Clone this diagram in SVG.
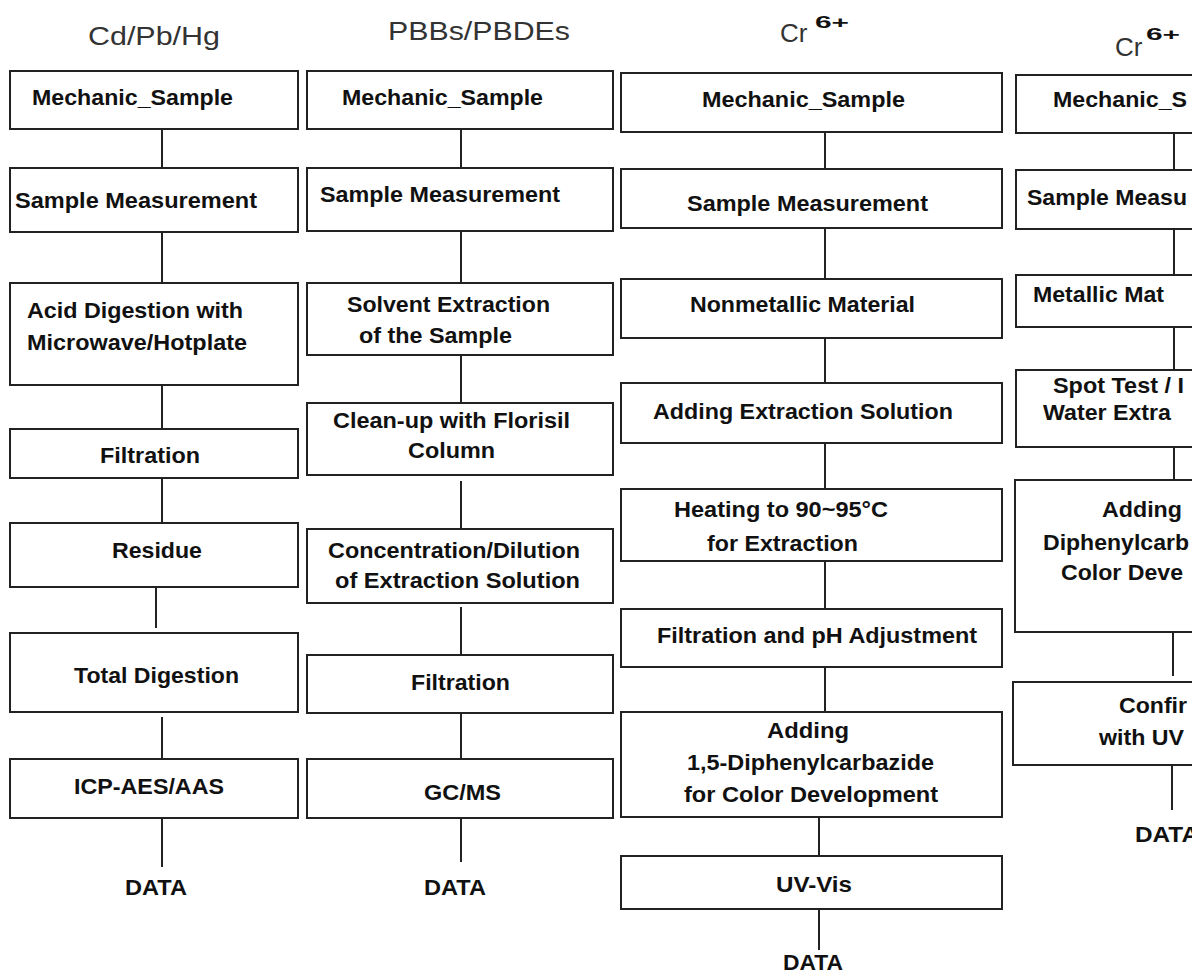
<svg xmlns="http://www.w3.org/2000/svg" width="1192" height="977" viewBox="0 0 1192 977">
<style>
.bg{fill:#fff}
.box{fill:#fff;stroke:#222;stroke-width:2}
.lbl{font-family:"Liberation Sans",Arial,sans-serif;font-weight:bold;font-size:22px;fill:#111}
.ttl{font-family:"Liberation Sans",Arial,sans-serif;font-size:26px;fill:#333}
.sup{font-family:"Liberation Sans",Arial,sans-serif;font-weight:bold;font-size:17px;fill:#111}
.con line{stroke:#222;stroke-width:2}
</style>
<rect class="bg" x="0" y="0" width="1192" height="977"/>

<g id="titles">
<text class="ttl" x="88" y="45" textLength="132" lengthAdjust="spacingAndGlyphs">Cd/Pb/Hg</text>
<text class="ttl" x="388" y="40" textLength="182" lengthAdjust="spacingAndGlyphs">PBBs/PBDEs</text>
<text class="ttl" x="780" y="42">Cr</text>
<text class="sup" x="815" y="28" textLength="34" lengthAdjust="spacingAndGlyphs">6+</text>
<text class="ttl" x="1115" y="56">Cr</text>
<text class="sup" x="1146" y="40" textLength="34" lengthAdjust="spacingAndGlyphs">6+</text>
</g>

<g class="con" id="connectors">
<line x1="162" y1="129" x2="162" y2="168"/>
<line x1="162" y1="232" x2="162" y2="283"/>
<line x1="162" y1="385" x2="162" y2="429"/>
<line x1="162" y1="478" x2="162" y2="523"/>
<line x1="156" y1="587" x2="156" y2="628"/>
<line x1="162" y1="717" x2="162" y2="759"/>
<line x1="162" y1="818" x2="162" y2="867"/>

<line x1="461" y1="129" x2="461" y2="168"/>
<line x1="461" y1="231" x2="461" y2="283"/>
<line x1="461" y1="355" x2="461" y2="403"/>
<line x1="461" y1="481" x2="461" y2="529"/>
<line x1="461" y1="607" x2="461" y2="655"/>
<line x1="461" y1="713" x2="461" y2="759"/>
<line x1="461" y1="818" x2="461" y2="862"/>

<line x1="825" y1="132" x2="825" y2="169"/>
<line x1="825" y1="228" x2="825" y2="279"/>
<line x1="825" y1="338" x2="825" y2="383"/>
<line x1="825" y1="443" x2="825" y2="489"/>
<line x1="825" y1="561" x2="825" y2="609"/>
<line x1="825" y1="667" x2="825" y2="712"/>
<line x1="819" y1="817" x2="819" y2="862"/>
<line x1="819" y1="909" x2="819" y2="950"/>

<line x1="1174" y1="133" x2="1174" y2="170"/>
<line x1="1174" y1="229" x2="1174" y2="275"/>
<line x1="1174" y1="327" x2="1174" y2="370"/>
<line x1="1174" y1="447" x2="1174" y2="480"/>
<line x1="1173" y1="632" x2="1173" y2="676"/>
<line x1="1172" y1="765" x2="1172" y2="810"/>
</g>

<!-- Column 1 -->
<g id="c1-mech"><rect class="box" x="10" y="71" width="288" height="58"/><text class="lbl" x="32" y="105" textLength="201" lengthAdjust="spacingAndGlyphs">Mechanic_Sample</text></g>
<g id="c1-meas"><rect class="box" x="10" y="168" width="288" height="64"/><text class="lbl" x="15" y="208" textLength="242" lengthAdjust="spacingAndGlyphs">Sample Measurement</text></g>
<g id="c1-acid"><rect class="box" x="10" y="283" width="288" height="102"/><text class="lbl" x="27" y="318" textLength="216" lengthAdjust="spacingAndGlyphs">Acid Digestion with</text><text class="lbl" x="27" y="350" textLength="220" lengthAdjust="spacingAndGlyphs">Microwave/Hotplate</text></g>
<g id="c1-filt"><rect class="box" x="10" y="429" width="288" height="49"/><text class="lbl" x="100" y="463" textLength="100" lengthAdjust="spacingAndGlyphs">Filtration</text></g>
<g id="c1-res"><rect class="box" x="10" y="523" width="288" height="64"/><text class="lbl" x="112" y="558" textLength="90" lengthAdjust="spacingAndGlyphs">Residue</text></g>
<g id="c1-total"><rect class="box" x="10" y="633" width="288" height="79"/><text class="lbl" x="74" y="683" textLength="165" lengthAdjust="spacingAndGlyphs">Total Digestion</text></g>
<g id="c1-icp"><rect class="box" x="10" y="759" width="288" height="59"/><text class="lbl" x="74" y="794" textLength="150" lengthAdjust="spacingAndGlyphs">ICP-AES/AAS</text></g>
<g id="c1-data"><text class="lbl" x="125" y="895" textLength="62" lengthAdjust="spacingAndGlyphs">DATA</text></g>

<!-- Column 2 -->
<g id="c2-mech"><rect class="box" x="307" y="71" width="306" height="58"/><text class="lbl" x="342" y="105" textLength="201" lengthAdjust="spacingAndGlyphs">Mechanic_Sample</text></g>
<g id="c2-meas"><rect class="box" x="307" y="168" width="306" height="63"/><text class="lbl" x="320" y="202" textLength="240" lengthAdjust="spacingAndGlyphs">Sample Measurement</text></g>
<g id="c2-solv"><rect class="box" x="307" y="283" width="306" height="72"/><text class="lbl" x="347" y="312" textLength="203" lengthAdjust="spacingAndGlyphs">Solvent Extraction</text><text class="lbl" x="359" y="343" textLength="153" lengthAdjust="spacingAndGlyphs">of the Sample</text></g>
<g id="c2-clean"><rect class="box" x="307" y="403" width="306" height="72"/><text class="lbl" x="333" y="428" textLength="237" lengthAdjust="spacingAndGlyphs">Clean-up with Florisil</text><text class="lbl" x="408" y="458" textLength="87" lengthAdjust="spacingAndGlyphs">Column</text></g>
<g id="c2-conc"><rect class="box" x="307" y="529" width="306" height="74"/><text class="lbl" x="328" y="558" textLength="252" lengthAdjust="spacingAndGlyphs">Concentration/Dilution</text><text class="lbl" x="335" y="588" textLength="245" lengthAdjust="spacingAndGlyphs">of Extraction Solution</text></g>
<g id="c2-filt"><rect class="box" x="307" y="655" width="306" height="58"/><text class="lbl" x="411" y="690" textLength="99" lengthAdjust="spacingAndGlyphs">Filtration</text></g>
<g id="c2-gcms"><rect class="box" x="307" y="759" width="306" height="59"/><text class="lbl" x="424" y="800" textLength="77" lengthAdjust="spacingAndGlyphs">GC/MS</text></g>
<g id="c2-data"><text class="lbl" x="424" y="895" textLength="62" lengthAdjust="spacingAndGlyphs">DATA</text></g>

<!-- Column 3 -->
<g id="c3-mech"><rect class="box" x="621" y="73" width="381" height="59"/><text class="lbl" x="702" y="107" textLength="203" lengthAdjust="spacingAndGlyphs">Mechanic_Sample</text></g>
<g id="c3-meas"><rect class="box" x="621" y="169" width="381" height="59"/><text class="lbl" x="687" y="211" textLength="241" lengthAdjust="spacingAndGlyphs">Sample Measurement</text></g>
<g id="c3-nonmet"><rect class="box" x="621" y="279" width="381" height="59"/><text class="lbl" x="690" y="312" textLength="225" lengthAdjust="spacingAndGlyphs">Nonmetallic Material</text></g>
<g id="c3-addext"><rect class="box" x="621" y="383" width="381" height="60"/><text class="lbl" x="653" y="419" textLength="300" lengthAdjust="spacingAndGlyphs">Adding Extraction Solution</text></g>
<g id="c3-heat"><rect class="box" x="621" y="489" width="381" height="72"/><text class="lbl" x="674" y="517" textLength="214" lengthAdjust="spacingAndGlyphs">Heating to 90~95°C</text><text class="lbl" x="707" y="551" textLength="151" lengthAdjust="spacingAndGlyphs">for Extraction</text></g>
<g id="c3-filtph"><rect class="box" x="621" y="609" width="381" height="58"/><text class="lbl" x="657" y="643" textLength="320" lengthAdjust="spacingAndGlyphs">Filtration and pH Adjustment</text></g>
<g id="c3-adddpc"><rect class="box" x="621" y="712" width="381" height="105"/><text class="lbl" x="767" y="738" textLength="82" lengthAdjust="spacingAndGlyphs">Adding</text><text class="lbl" x="687" y="770" textLength="247" lengthAdjust="spacingAndGlyphs">1,5-Diphenylcarbazide</text><text class="lbl" x="684" y="802" textLength="254" lengthAdjust="spacingAndGlyphs">for Color Development</text></g>
<g id="c3-uv"><rect class="box" x="621" y="856" width="381" height="53"/><text class="lbl" x="776" y="892" textLength="76" lengthAdjust="spacingAndGlyphs">UV-Vis</text></g>
<g id="c3-data"><text class="lbl" x="783" y="970" textLength="60" lengthAdjust="spacingAndGlyphs">DATA</text></g>

<!-- Column 4 (cut at the right edge) -->
<g id="c4-mech"><rect class="box" x="1016" y="75" width="200" height="58"/><text class="lbl" x="1053" y="107" textLength="134" lengthAdjust="spacingAndGlyphs">Mechanic_S</text></g>
<g id="c4-meas"><rect class="box" x="1016" y="170" width="200" height="59"/><text class="lbl" x="1027" y="205" textLength="160" lengthAdjust="spacingAndGlyphs">Sample Measu</text></g>
<g id="c4-met"><rect class="box" x="1016" y="275" width="200" height="52"/><text class="lbl" x="1033" y="302" textLength="131" lengthAdjust="spacingAndGlyphs">Metallic Mat</text></g>
<g id="c4-spot"><rect class="box" x="1016" y="370" width="200" height="77"/><text class="lbl" x="1053" y="393" textLength="131" lengthAdjust="spacingAndGlyphs">Spot Test / I</text><text class="lbl" x="1043" y="420" textLength="128" lengthAdjust="spacingAndGlyphs">Water Extra</text></g>
<g id="c4-add"><rect class="box" x="1015" y="480" width="200" height="152"/><text class="lbl" x="1102" y="517" textLength="80" lengthAdjust="spacingAndGlyphs">Adding</text><text class="lbl" x="1043" y="550" textLength="146" lengthAdjust="spacingAndGlyphs">Diphenylcarb</text><text class="lbl" x="1061" y="580" textLength="122" lengthAdjust="spacingAndGlyphs">Color Deve</text></g>
<g id="c4-conf"><rect class="box" x="1013" y="682" width="200" height="83"/><text class="lbl" x="1119" y="713" textLength="68" lengthAdjust="spacingAndGlyphs">Confir</text><text class="lbl" x="1099" y="745" textLength="85" lengthAdjust="spacingAndGlyphs">with UV</text></g>
<g id="c4-data"><text class="lbl" x="1135" y="842" textLength="64" lengthAdjust="spacingAndGlyphs">DATA</text></g>
</svg>
